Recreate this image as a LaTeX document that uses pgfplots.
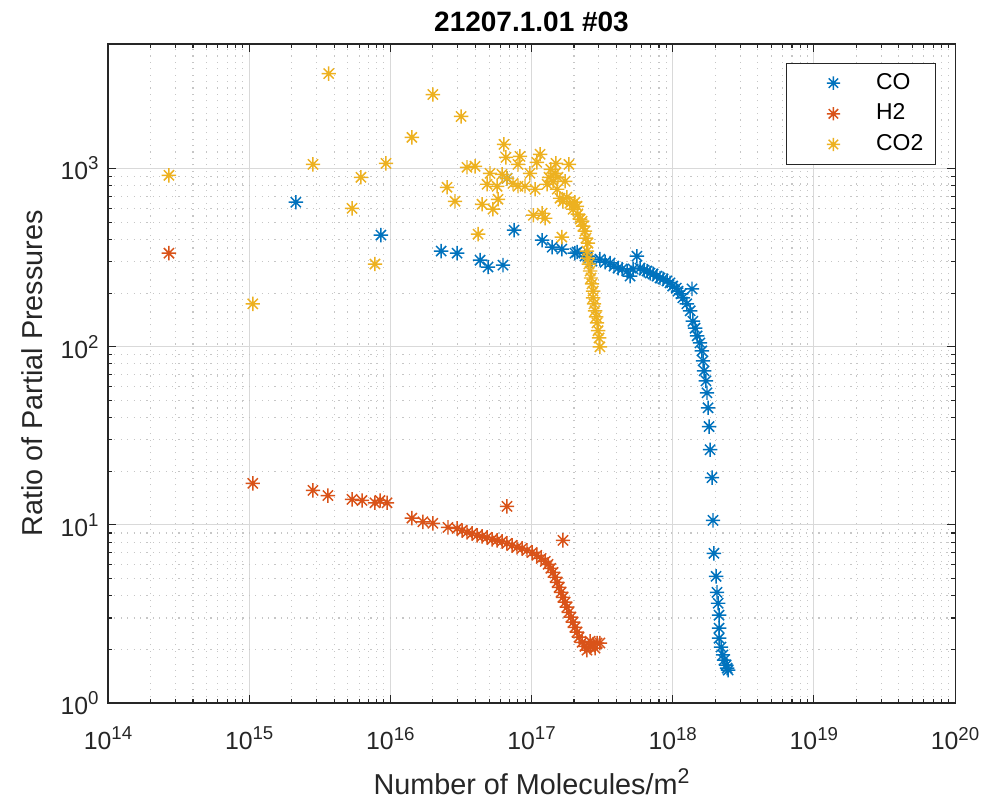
\documentclass[border=0pt]{standalone}
\usepackage{fontspec}
\setmainfont{Liberation Sans}
\usepackage{pgfplots}
\pgfplotsset{compat=1.18}

\definecolor{mblue}{rgb}{0,0.447,0.741}
\definecolor{mred}{rgb}{0.85,0.325,0.098}
\definecolor{myellow}{rgb}{0.929,0.694,0.125}
\definecolor{axgray}{rgb}{0.15,0.15,0.15}

% tick label 10^n with a larger superscript, as MATLAB draws it
\newcommand{\tl}[1]{10\raisebox{3.7pt}{\fontsize{7}{8}\selectfont #1}}

% MATLAB-like '*' marker: plus and cross overlaid
\pgfdeclareplotmark{mstar}{%
  \pgfpathmoveto{\pgfqpoint{-\pgfplotmarksize}{0pt}}%
  \pgfpathlineto{\pgfqpoint{\pgfplotmarksize}{0pt}}%
  \pgfpathmoveto{\pgfqpoint{0pt}{-\pgfplotmarksize}}%
  \pgfpathlineto{\pgfqpoint{0pt}{\pgfplotmarksize}}%
  \pgfpathmoveto{\pgfqpoint{-.7071\pgfplotmarksize}{-.7071\pgfplotmarksize}}%
  \pgfpathlineto{\pgfqpoint{.7071\pgfplotmarksize}{.7071\pgfplotmarksize}}%
  \pgfpathmoveto{\pgfqpoint{-.7071\pgfplotmarksize}{.7071\pgfplotmarksize}}%
  \pgfpathlineto{\pgfqpoint{.7071\pgfplotmarksize}{-.7071\pgfplotmarksize}}%
  \pgfusepathqstroke}

\begin{document}
\begin{tikzpicture}
\begin{loglogaxis}[
    scale only axis,
    width=317.6pt, height=247.1pt,
    xmin=1e14, xmax=1e20,
    ymin=1, ymax=5000,
    xtick={1e14,1e15,1e16,1e17,1e18,1e19,1e20},
    xticklabels={\tl{14},\tl{15},\tl{16},\tl{17},\tl{18},\tl{19},\tl{20}},
    ytick={1,10,100,1000},
    yticklabels={\tl{0},\tl{1},\tl{2},\tl{3}},
    tick label style={font=\fontsize{9.3}{11}\selectfont, text=axgray},
    xticklabel style={yshift=-5.5pt},
    label style={font=\fontsize{10.8}{12}\selectfont, text=axgray},
    title style={font=\fontsize{10.5}{12}\selectfont\bfseries, yshift=-5pt},
    title={21207.1.01 \#03},
    xlabel={Number of Molecules/m\raisebox{4.2pt}{\fontsize{8}{9}\selectfont 2}},
    ylabel={Ratio of Partial Pressures},
    axis line style={axgray, line width=0.4pt},
    major tick length=3pt, minor tick length=1.6pt,
    every tick/.style={axgray, line width=0.4pt},
    grid=both,
    major grid style={gray!30, line width=0.4pt},
    minor grid style={gray!45, line width=0.4pt, dotted},
    mark size=2.7pt,
    legend style={at={(0.9776,0.9712)}, anchor=north east, draw=axgray,
        font=\fontsize{8.6}{10}\selectfont, row sep=0pt,
        inner xsep=2.6pt, inner ysep=1.6pt},
    legend cell align=left,
    legend image code/.code={%
        \pgfpathrectangle{\pgfqpoint{0pt}{-3pt}}{\pgfqpoint{29pt}{6pt}}%
        \pgfusepath{discard}%
        \draw[#1, mark size=2.5pt] plot coordinates {(15pt,0pt)};},
]
\addplot[only marks, mark=mstar, color=mblue, line width=0.55pt] coordinates {
(2.14e15,647) (8.57e15,423) (2.29e16,344) (2.97e16,335) (4.32e16,306)
(4.92e16,280) (6.28e16,287) (6.70e16,881) (7.52e16,451) (1.19e17,396)
(1.40e17,362) (1.64e17,353) (2.03e17,335) (2.10e17,340) (2.39e17,322)
(2.51e17,322) (2.68e17,302) (3.05e17,310) (3.32e17,298) (3.60e17,295)
(3.84e17,283) (4.10e17,276) (4.38e17,273) (4.75e17,266) (4.99e17,249)
(5.58e17,322) (5.24e17,273) (5.87e17,276) (6.27e17,269) (6.58e17,266)
(6.91e17,259) (7.26e17,256) (7.74e17,249) (8.13e17,243) (8.54e17,240)
(9.12e17,234) (9.57e17,228) (1.00e18,219) (1.06e18,213) (1.09e18,205)
(1.15e18,198) (1.18e18,188) (1.37e18,211) (1.26e18,174) (1.33e18,159)
(1.39e18,139) (1.44e18,127) (1.49e18,115) (1.56e18,105) (1.61e18,94.7)
(1.64e18,83.3) (1.67e18,73.2) (1.72e18,64.3) (1.75e18,55.1) (1.78e18,45.4)
(1.81e18,35.6) (1.84e18,26.4) (1.90e18,18.4) (1.93e18,10.6) (1.96e18,6.92)
(2.03e18,5.14) (2.06e18,4.18) (2.10e18,3.63) (2.13e18,3.11) (2.13e18,2.63)
(2.13e18,2.31) (2.20e18,2.06) (2.27e18,1.86) (2.31e18,1.74) (2.39e18,1.63)
(2.43e18,1.57) (2.47e18,1.53)
};
\addlegendentry{CO}
\addplot[only marks, mark=mstar, color=mred, line width=0.55pt] coordinates {
(2.70e14,335) (1.06e15,17.1) (2.83e15,15.6) (3.61e15,14.6) (5.35e15,13.9)
(6.30e15,13.7) (7.78e15,13.3) (8.45e15,13.7) (9.47e15,13.3) (1.42e16,10.9)
(1.70e16,10.4) (2.00e16,10.2) (2.56e16,9.67) (2.97e16,9.55) (3.22e16,9.30)
(3.49e16,9.07) (3.79e16,8.95) (4.11e16,8.72) (4.46e16,8.61) (4.84e16,8.50)
(5.25e16,8.28) (5.70e16,8.18) (6.18e16,8.07) (6.70e16,7.87) (6.70e16,12.7)
(7.28e16,7.67) (7.89e16,7.47) (8.57e16,7.38) (9.29e16,7.19) (1.01e17,7.00)
(1.09e17,6.74) (1.17e17,6.48) (1.25e17,6.24) (1.31e17,6.00) (1.37e17,5.70)
(1.42e17,5.41) (1.47e17,5.08) (1.52e17,4.76) (1.57e17,4.46) (1.62e17,4.18)
(1.67e17,3.92) (1.73e17,3.68) (1.78e17,3.45) (1.84e17,3.23) (1.90e17,3.03)
(1.97e17,2.84) (2.03e17,2.66) (2.10e17,2.50) (2.17e17,2.34) (2.28e17,2.19)
(2.39e17,2.08) (2.47e17,1.98) (2.60e17,2.06) (2.73e17,2.14) (2.91e17,2.17)
(3.05e17,2.17) (2.82e17,2.03) (2.60e17,2.22) (1.67e17,8.18)
};
\addlegendentry{H2}
\addplot[only marks, mark=mstar, color=myellow, line width=0.55pt] coordinates {
(2.70e14,916) (1.06e15,174) (3.66e15,3412) (2.83e15,1055) (6.19e15,893)
(5.35e15,598) (7.78e15,291) (9.31e15,1069) (1.42e16,1496) (2.00e16,2602)
(2.52e16,785) (3.17e16,1960) (2.87e16,655) (3.49e16,1016) (3.98e16,1029)
(4.18e16,428) (4.46e16,630) (4.84e16,816) (5.08e16,940) (5.33e16,591)
(5.70e16,795) (5.79e16,672) (6.18e16,928) (6.38e16,1366) (6.59e16,1155)
(6.70e16,881) (7.39e16,826) (8.02e16,1055) (8.28e16,1170) (8.02e16,795)
(8.99e16,795) (9.75e16,940) (1.03e17,547) (1.06e17,765) (1.09e17,1083)
(1.15e17,1202) (1.19e17,561) (1.25e17,526) (1.29e17,816) (1.33e17,893)
(1.37e17,990) (1.42e17,848) (1.47e17,940) (1.49e17,1069) (1.52e17,765)
(1.54e17,893) (1.64e17,412) (1.73e17,848) (1.84e17,1055) (1.59e17,681)
(1.67e17,655) (1.78e17,690) (1.87e17,638) (1.97e17,591) (2.03e17,647)
(2.10e17,614) (2.13e17,554) (2.21e17,520) (2.28e17,506) (2.32e17,475)
(2.39e17,445) (2.43e17,407) (2.51e17,381) (2.47e17,344) (2.51e17,314)
(2.55e17,291) (2.60e17,266) (2.64e17,243) (2.68e17,225) (2.73e17,205)
(2.73e17,188) (2.77e17,174) (2.82e17,159) (2.87e17,147) (2.91e17,136)
(2.96e17,123) (3.01e17,112) (3.05e17,99.8)
};
\addlegendentry{CO2}
\end{loglogaxis}
\pgfresetboundingbox
\path[use as bounding box] ([xshift=-40.5pt,yshift=-36.75pt]current axis.south west)
    rectangle ([xshift=11.25pt,yshift=16.5pt]current axis.north east);
\end{tikzpicture}
\end{document}
